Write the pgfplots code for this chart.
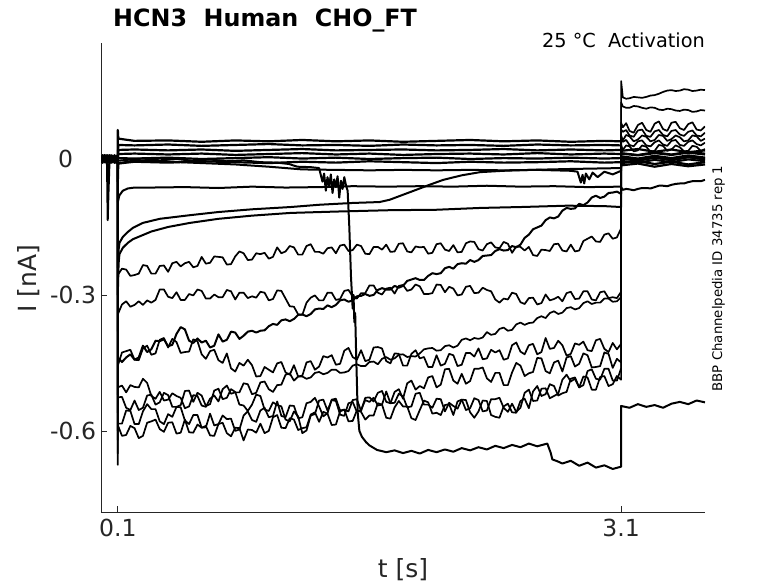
\documentclass[border=0pt]{standalone}
\usepackage{fontspec}
\setmainfont{DejaVu Sans}
\usepackage{pgfplots}
\usepackage{pgfplotstable}
\pgfplotsset{compat=1.18}
\definecolor{axgray}{RGB}{38,38,38}
\pgfplotsset{
  tn/.style={black, line width=1.7bp, line join=round},
  tm/.style={black, line width=2.0bp, line join=round},
  tb/.style={black, line width=2.2bp, line join=round},
}
% columns a..h : eight strongly activated sweeps (pre-pulse, step 0.1-3.1 s, tail)
\pgfplotstableread{
t a b c d e f g h
0.000 0.004 -0.003 0.006 -0.005 0.002 -0.008 0.005 -0.002
0.010 -0.006 0.008 -0.004 0.007 -0.009 0.004 -0.003 0.009
0.020 0.007 -0.005 0.009 -0.008 0.005 -0.002 0.008 -0.006
0.030 -0.003 0.006 -0.007 0.004 -0.006 0.009 -0.005 0.003
0.036 0.005 -0.008 -0.012 -0.006 0.008 -0.004 0.006 -0.009
0.040 -0.004 0.003 -0.135 0.009 -0.003 0.007 -0.008 0.004
0.044 0.008 -0.006 -0.080 -0.003 0.006 -0.009 0.002 -0.007
0.050 -0.007 0.009 -0.012 0.005 -0.008 0.003 -0.006 0.008
0.060 0.003 -0.004 0.007 -0.009 0.004 -0.006 0.009 -0.003
0.070 -0.008 0.007 -0.005 0.006 -0.007 0.008 -0.004 0.005
0.080 0.006 -0.009 0.004 -0.004 0.009 -0.005 0.007 -0.008
0.090 -0.005 0.004 -0.008 0.008 -0.002 0.006 -0.009 0.006
0.100 0.002 -0.006 0.003 -0.007 0.006 -0.003 0.004 -0.004
0.100 -0.300 -0.380 -0.520 -0.560 -0.600 -0.650 -0.620 -0.675
0.100 -0.256 -0.343 -0.438 -0.456 -0.504 -0.584 -0.526 -0.587
0.125 -0.242 -0.321 -0.448 -0.427 -0.500 -0.584 -0.525 -0.611
0.150 -0.244 -0.314 -0.438 -0.424 -0.515 -0.555 -0.549 -0.609
0.175 -0.258 -0.326 -0.431 -0.421 -0.499 -0.556 -0.554 -0.589
0.200 -0.256 -0.322 -0.443 -0.443 -0.503 -0.585 -0.533 -0.594
0.225 -0.253 -0.314 -0.438 -0.444 -0.504 -0.585 -0.554 -0.616
0.250 -0.234 -0.322 -0.412 -0.418 -0.485 -0.557 -0.549 -0.611
0.275 -0.236 -0.312 -0.426 -0.412 -0.494 -0.541 -0.522 -0.582
0.300 -0.253 -0.317 -0.420 -0.432 -0.523 -0.552 -0.520 -0.579
0.325 -0.253 -0.311 -0.401 -0.429 -0.529 -0.552 -0.542 -0.575
0.350 -0.236 -0.288 -0.402 -0.399 -0.514 -0.579 -0.537 -0.596
0.375 -0.235 -0.288 -0.398 -0.395 -0.533 -0.585 -0.516 -0.602
0.400 -0.249 -0.304 -0.413 -0.416 -0.531 -0.563 -0.521 -0.582
0.425 -0.230 -0.307 -0.410 -0.397 -0.517 -0.569 -0.547 -0.581
0.450 -0.227 -0.294 -0.386 -0.404 -0.523 -0.547 -0.547 -0.606
0.475 -0.237 -0.311 -0.371 -0.428 -0.527 -0.548 -0.543 -0.604
0.500 -0.230 -0.311 -0.376 -0.426 -0.550 -0.577 -0.512 -0.575
0.525 -0.227 -0.298 -0.401 -0.425 -0.546 -0.585 -0.511 -0.603
0.550 -0.239 -0.301 -0.406 -0.398 -0.521 -0.565 -0.536 -0.604
0.575 -0.236 -0.288 -0.396 -0.402 -0.523 -0.565 -0.516 -0.586
0.600 -0.216 -0.291 -0.405 -0.431 -0.544 -0.593 -0.522 -0.593
0.625 -0.231 -0.308 -0.401 -0.441 -0.547 -0.592 -0.545 -0.589
0.650 -0.229 -0.308 -0.416 -0.424 -0.529 -0.562 -0.541 -0.610
0.675 -0.215 -0.299 -0.412 -0.421 -0.522 -0.588 -0.511 -0.611
0.700 -0.216 -0.305 -0.387 -0.444 -0.535 -0.585 -0.507 -0.585
0.725 -0.217 -0.305 -0.403 -0.450 -0.508 -0.566 -0.530 -0.582
0.750 -0.233 -0.289 -0.399 -0.429 -0.500 -0.574 -0.527 -0.605
0.775 -0.232 -0.292 -0.381 -0.462 -0.518 -0.573 -0.508 -0.612
0.800 -0.215 -0.310 -0.383 -0.469 -0.515 -0.600 -0.514 -0.593
0.825 -0.204 -0.295 -0.397 -0.450 -0.515 -0.597 -0.542 -0.594
0.850 -0.208 -0.295 -0.390 -0.456 -0.495 -0.566 -0.544 -0.621
0.875 -0.223 -0.307 -0.381 -0.443 -0.497 -0.557 -0.556 -0.597
0.900 -0.222 -0.303 -0.379 -0.455 -0.519 -0.576 -0.542 -0.598
0.925 -0.208 -0.306 -0.383 -0.480 -0.516 -0.580 -0.520 -0.604
0.950 -0.210 -0.293 -0.379 -0.479 -0.493 -0.555 -0.523 -0.584
0.975 -0.207 -0.295 -0.378 -0.459 -0.491 -0.549 -0.553 -0.605
1.000 -0.220 -0.312 -0.369 -0.465 -0.508 -0.570 -0.556 -0.600
1.025 -0.216 -0.309 -0.364 -0.471 -0.514 -0.567 -0.537 -0.570
1.050 -0.195 -0.290 -0.366 -0.451 -0.499 -0.535 -0.543 -0.565
1.075 -0.208 -0.291 -0.356 -0.448 -0.498 -0.567 -0.546 -0.593
1.100 -0.204 -0.308 -0.354 -0.471 -0.476 -0.570 -0.575 -0.594
1.125 -0.192 -0.325 -0.358 -0.476 -0.473 -0.544 -0.579 -0.572
1.150 -0.195 -0.326 -0.353 -0.455 -0.489 -0.545 -0.557 -0.575
1.175 -0.211 -0.343 -0.344 -0.480 -0.480 -0.572 -0.568 -0.598
1.200 -0.211 -0.344 -0.343 -0.478 -0.480 -0.570 -0.605 -0.594
1.225 -0.192 -0.317 -0.347 -0.449 -0.485 -0.539 -0.599 -0.592
1.250 -0.188 -0.306 -0.342 -0.446 -0.482 -0.536 -0.566 -0.564
1.275 -0.205 -0.301 -0.332 -0.465 -0.472 -0.527 -0.563 -0.559
1.300 -0.205 -0.312 -0.330 -0.458 -0.470 -0.546 -0.533 -0.580
1.325 -0.209 -0.312 -0.331 -0.435 -0.475 -0.568 -0.531 -0.558
1.350 -0.197 -0.295 -0.323 -0.438 -0.472 -0.561 -0.555 -0.562
1.375 -0.195 -0.295 -0.327 -0.433 -0.465 -0.531 -0.532 -0.587
1.400 -0.208 -0.311 -0.322 -0.454 -0.465 -0.529 -0.534 -0.586
1.425 -0.191 -0.309 -0.312 -0.452 -0.472 -0.555 -0.564 -0.557
1.450 -0.189 -0.291 -0.310 -0.423 -0.471 -0.553 -0.567 -0.553
1.475 -0.203 -0.289 -0.315 -0.417 -0.468 -0.557 -0.539 -0.579
1.500 -0.201 -0.303 -0.312 -0.437 -0.456 -0.532 -0.536 -0.578
1.525 -0.189 -0.308 -0.303 -0.443 -0.453 -0.530 -0.558 -0.555
1.550 -0.192 -0.296 -0.302 -0.422 -0.457 -0.556 -0.554 -0.558
1.575 -0.209 -0.296 -0.298 -0.446 -0.457 -0.527 -0.532 -0.575
1.600 -0.210 -0.279 -0.302 -0.443 -0.448 -0.526 -0.536 -0.566
1.625 -0.194 -0.279 -0.300 -0.416 -0.447 -0.535 -0.527 -0.566
1.650 -0.194 -0.295 -0.289 -0.415 -0.453 -0.516 -0.544 -0.539
1.675 -0.200 -0.299 -0.285 -0.418 -0.441 -0.512 -0.542 -0.542
1.700 -0.189 -0.286 -0.288 -0.446 -0.437 -0.536 -0.513 -0.571
1.725 -0.205 -0.284 -0.288 -0.451 -0.443 -0.539 -0.539 -0.573
1.750 -0.204 -0.297 -0.280 -0.429 -0.440 -0.514 -0.538 -0.548
1.775 -0.187 -0.280 -0.284 -0.430 -0.432 -0.508 -0.518 -0.534
1.800 -0.186 -0.278 -0.280 -0.456 -0.431 -0.529 -0.524 -0.546
1.825 -0.204 -0.291 -0.269 -0.456 -0.437 -0.495 -0.548 -0.546
1.850 -0.206 -0.288 -0.266 -0.430 -0.435 -0.489 -0.546 -0.572
1.875 -0.193 -0.277 -0.263 -0.422 -0.436 -0.509 -0.518 -0.576
1.900 -0.195 -0.281 -0.267 -0.440 -0.429 -0.501 -0.516 -0.554
1.925 -0.194 -0.298 -0.267 -0.437 -0.420 -0.506 -0.542 -0.533
1.950 -0.209 -0.298 -0.258 -0.459 -0.418 -0.482 -0.542 -0.537
1.975 -0.207 -0.296 -0.252 -0.459 -0.417 -0.479 -0.549 -0.562
2.000 -0.188 -0.277 -0.254 -0.433 -0.423 -0.504 -0.529 -0.560
2.025 -0.186 -0.278 -0.252 -0.456 -0.422 -0.498 -0.530 -0.565
2.050 -0.200 -0.294 -0.241 -0.452 -0.413 -0.464 -0.557 -0.543
2.075 -0.203 -0.282 -0.238 -0.430 -0.411 -0.463 -0.538 -0.541
2.100 -0.190 -0.286 -0.242 -0.433 -0.416 -0.489 -0.545 -0.565
2.125 -0.206 -0.301 -0.232 -0.457 -0.412 -0.496 -0.551 -0.535
2.150 -0.205 -0.299 -0.230 -0.454 -0.399 -0.474 -0.531 -0.531
2.175 -0.186 -0.282 -0.231 -0.428 -0.396 -0.496 -0.532 -0.554
2.200 -0.182 -0.280 -0.223 -0.428 -0.400 -0.490 -0.559 -0.550
2.225 -0.183 -0.296 -0.227 -0.436 -0.395 -0.463 -0.571 -0.528
2.250 -0.199 -0.295 -0.223 -0.418 -0.397 -0.463 -0.557 -0.532
2.275 -0.202 -0.284 -0.214 -0.442 -0.394 -0.460 -0.533 -0.557
2.300 -0.188 -0.289 -0.213 -0.440 -0.382 -0.484 -0.534 -0.555
2.325 -0.184 -0.292 -0.212 -0.421 -0.388 -0.492 -0.565 -0.530
2.350 -0.195 -0.310 -0.203 -0.427 -0.386 -0.472 -0.569 -0.530
2.375 -0.197 -0.317 -0.199 -0.422 -0.375 -0.472 -0.571 -0.527
2.400 -0.183 -0.308 -0.202 -0.443 -0.372 -0.499 -0.546 -0.549
2.425 -0.187 -0.310 -0.201 -0.440 -0.379 -0.499 -0.540 -0.558
2.450 -0.207 -0.295 -0.192 -0.411 -0.377 -0.471 -0.559 -0.540
2.475 -0.193 -0.298 -0.195 -0.405 -0.365 -0.450 -0.560 -0.558
2.500 -0.194 -0.316 -0.189 -0.425 -0.361 -0.456 -0.534 -0.549
2.525 -0.202 -0.320 -0.174 -0.431 -0.366 -0.479 -0.529 -0.516
2.550 -0.194 -0.307 -0.167 -0.411 -0.362 -0.473 -0.550 -0.509
2.575 -0.212 -0.306 -0.155 -0.408 -0.361 -0.470 -0.513 -0.534
2.600 -0.214 -0.321 -0.151 -0.431 -0.351 -0.439 -0.501 -0.533
2.625 -0.200 -0.318 -0.147 -0.426 -0.347 -0.440 -0.523 -0.507
2.650 -0.201 -0.299 -0.135 -0.395 -0.351 -0.468 -0.519 -0.506
2.675 -0.203 -0.312 -0.129 -0.419 -0.340 -0.473 -0.497 -0.528
2.700 -0.188 -0.309 -0.131 -0.417 -0.336 -0.449 -0.501 -0.523
2.725 -0.187 -0.304 -0.127 -0.401 -0.342 -0.445 -0.522 -0.518
2.750 -0.202 -0.314 -0.114 -0.411 -0.339 -0.469 -0.517 -0.487
2.775 -0.204 -0.296 -0.108 -0.434 -0.329 -0.438 -0.514 -0.476
2.800 -0.189 -0.293 -0.110 -0.430 -0.327 -0.435 -0.485 -0.491
2.825 -0.204 -0.309 -0.109 -0.407 -0.332 -0.458 -0.482 -0.485
2.850 -0.202 -0.308 -0.099 -0.410 -0.329 -0.452 -0.504 -0.504
2.875 -0.181 -0.292 -0.102 -0.403 -0.318 -0.429 -0.480 -0.499
2.900 -0.176 -0.292 -0.096 -0.422 -0.314 -0.433 -0.482 -0.468
2.925 -0.171 -0.310 -0.085 -0.424 -0.320 -0.460 -0.509 -0.464
2.950 -0.182 -0.312 -0.081 -0.400 -0.317 -0.459 -0.509 -0.485
2.975 -0.183 -0.294 -0.086 -0.397 -0.317 -0.457 -0.481 -0.487
3.000 -0.167 -0.292 -0.083 -0.419 -0.308 -0.427 -0.479 -0.463
3.025 -0.164 -0.307 -0.075 -0.426 -0.308 -0.430 -0.501 -0.463
3.050 -0.176 -0.305 -0.074 -0.406 -0.315 -0.461 -0.497 -0.489
3.075 -0.173 -0.307 -0.072 -0.420 -0.314 -0.441 -0.479 -0.489
3.100 -0.153 -0.293 -0.077 -0.408 -0.305 -0.449 -0.487 -0.462
3.100 0.030 0.042 -0.062 0.065 0.052 0.080 0.125 0.172
3.110 0.020 0.038 -0.068 0.060 0.041 0.070 0.116 0.136
3.130 0.030 0.042 -0.066 0.064 0.053 0.079 0.113 0.133
3.150 0.028 0.031 -0.067 0.052 0.050 0.062 0.113 0.134
3.175 0.017 0.028 -0.069 0.049 0.039 0.058 0.117 0.137
3.200 0.019 0.039 -0.066 0.063 0.043 0.075 0.116 0.136
3.225 0.030 0.041 -0.064 0.065 0.052 0.080 0.113 0.135
3.250 0.027 0.030 -0.064 0.051 0.049 0.064 0.111 0.137
3.275 0.016 0.028 -0.065 0.049 0.039 0.060 0.114 0.140
3.300 0.018 0.037 -0.062 0.061 0.042 0.078 0.113 0.141
3.325 0.031 0.041 -0.059 0.064 0.053 0.083 0.109 0.144
3.350 0.029 0.032 -0.059 0.053 0.051 0.066 0.108 0.148
3.375 0.018 0.029 -0.060 0.050 0.040 0.062 0.111 0.151
3.400 0.021 0.040 -0.057 0.062 0.044 0.080 0.110 0.152
3.425 0.030 0.042 -0.055 0.064 0.052 0.082 0.107 0.150
3.450 0.026 0.031 -0.054 0.054 0.048 0.068 0.106 0.151
3.475 0.017 0.029 -0.054 0.051 0.039 0.064 0.109 0.154
3.500 0.018 0.038 -0.051 0.060 0.041 0.077 0.108 0.153
3.525 0.029 0.041 -0.049 0.063 0.052 0.081 0.104 0.150
3.550 0.027 0.033 -0.049 0.052 0.050 0.065 0.105 0.151
3.575 0.018 0.030 -0.049 0.050 0.040 0.063 0.108 0.153
3.600 0.022 0.036 -0.046 0.058 0.045 0.072 0.107 0.152
}\sweeps
\begin{document}
\begin{tikzpicture}
\path[use as bounding box] (0,0) rectangle (778bp,583bp);
\begin{axis}[
  at={(101bp,71bp)}, anchor=south west,
  scale only axis, width=604bp, height=469bp,
  xmin=0, xmax=3.6, ymin=-0.779, ymax=0.256,
  axis x line*=bottom, axis y line*=left,
  axis line style={color=axgray, line width=0.6bp},
  xtick={0.1,3.1}, xticklabels={0.1,3.1},
  ytick={-0.6,-0.3,0}, yticklabels={-0.6,-0.3,{0\hspace*{23bp}}},
  tick align=inside, major tick length=6bp,
  tick style={color=axgray, line width=0.6bp},
  tick label style={font=\fontsize{23.5bp}{28bp}\selectfont, text=axgray},
  xticklabel style={yshift=-4bp},
  yticklabel style={xshift=-1.5bp},
]
% eight most activated sweeps
\addplot[tn] table[x=t,y=a]{\sweeps};
\addplot[tn] table[x=t,y=b]{\sweeps};
\addplot[tm] table[x=t,y=c]{\sweeps};
\addplot[tn] table[x=t,y=d]{\sweeps};
\addplot[tn] table[x=t,y=e]{\sweeps};
\addplot[tn] table[x=t,y=f]{\sweeps};
\addplot[tn] table[x=t,y=g]{\sweeps};
\addplot[tn] table[x=t,y=h]{\sweeps};
% weakly activated sweeps near zero
\addplot[tb] coordinates {(0,0.004)(0.03,-0.005)(0.06,0.006)(0.1,0.001)(0.1003,0.064)(0.103,0.045)(0.2,0.040)(0.4,0.041)(0.6,0.038)(0.8,0.041)(1.0,0.039)(1.2,0.042)(1.4,0.039)(1.6,0.041)(1.8,0.038)(2.0,0.040)(2.2,0.042)(2.4,0.039)(2.6,0.041)(2.8,0.038)(3.0,0.040)(3.1,0.039)(3.1,0.012)(3.2,0.008)(3.3,0.013)(3.4,0.009)(3.5,0.014)(3.6,0.010)};
\addplot[tb] coordinates {(0,-0.003)(0.03,0.006)(0.06,-0.004)(0.1,0.002)(0.103,0.031)(0.2,0.030)(0.4,0.032)(0.6,0.029)(0.8,0.031)(1.0,0.033)(1.2,0.030)(1.4,0.031)(1.6,0.029)(1.8,0.032)(2.0,0.030)(2.2,0.031)(2.4,0.029)(2.6,0.032)(2.8,0.030)(3.0,0.031)(3.1,0.030)(3.1,0.002)(3.2,-0.003)(3.3,0.003)(3.4,-0.002)(3.5,0.004)(3.6,-0.001)};
\addplot[tb] coordinates {(0,0.005)(0.03,-0.002)(0.06,0.004)(0.1,-0.002)(0.103,0.020)(0.2,0.021)(0.4,0.019)(0.6,0.021)(0.8,0.018)(1.0,0.020)(1.2,0.022)(1.4,0.019)(1.6,0.020)(1.8,0.021)(2.0,0.019)(2.2,0.020)(2.4,0.022)(2.6,0.019)(2.8,0.021)(3.0,0.019)(3.1,0.020)(3.1,-0.009)(3.2,-0.005)(3.3,-0.011)(3.4,-0.006)(3.5,-0.012)(3.6,-0.007)};
\addplot[tb] coordinates {(0,-0.005)(0.03,0.004)(0.06,-0.006)(0.1,0.003)(0.103,0.011)(0.2,0.012)(0.4,0.010)(0.6,0.012)(0.8,0.009)(1.0,0.011)(1.2,0.013)(1.4,0.010)(1.6,0.012)(1.8,0.009)(2.0,0.011)(2.2,0.012)(2.4,0.010)(2.6,0.013)(2.8,0.010)(3.0,0.012)(3.1,0.011)(3.1,0.018)(3.2,0.022)(3.3,0.016)(3.4,0.021)(3.5,0.015)(3.6,0.019)};
\addplot[tb] coordinates {(0,0.006)(0.03,-0.003)(0.06,0.005)(0.1,-0.004)(0.103,0.002)(0.2,0.001)(0.4,0.003)(0.6,0.000)(0.8,0.002)(1.0,0.004)(1.2,0.001)(1.4,0.003)(1.6,0.000)(1.8,0.002)(2.0,0.003)(2.2,0.000)(2.4,0.002)(2.6,0.001)(2.8,0.003)(3.0,0.001)(3.1,0.002)(3.1,0.006)(3.2,0.001)(3.3,0.007)(3.4,0.002)(3.5,0.008)(3.6,0.003)};
\addplot[tb] coordinates {(0,-0.002)(0.03,0.005)(0.06,-0.005)(0.1,0.004)(0.1003,-0.050)(0.103,-0.010)(0.2,-0.006)(0.4,-0.008)(0.6,-0.005)(0.8,-0.007)(1.0,-0.009)(1.2,-0.006)(1.4,-0.008)(1.6,-0.005)(1.8,-0.007)(2.0,-0.009)(2.2,-0.006)(2.4,-0.008)(2.6,-0.007)(2.8,-0.005)(3.0,-0.008)(3.1,-0.007)(3.1,-0.014)(3.2,-0.010)(3.3,-0.017)(3.4,-0.011)(3.5,-0.016)(3.6,-0.012)};
% slowly drifting sweep with small dip near 2.9 s
\addplot[tm] coordinates {(0,-0.004)(0.05,0.005)(0.1,0.001)(0.1,-0.010)(0.2,-0.003)(0.4,-0.006)(0.6,-0.009)(0.8,-0.012)(1.0,-0.017)(1.2,-0.023)(1.4,-0.024)(1.6,-0.025)(1.8,-0.024)(2.0,-0.025)(2.2,-0.024)(2.4,-0.025)(2.6,-0.024)(2.8,-0.026)(2.84,-0.028)(2.86,-0.052)(2.87,-0.035)(2.88,-0.054)(2.89,-0.032)(2.91,-0.045)(2.93,-0.030)(2.96,-0.040)(3.0,-0.028)(3.05,-0.034)(3.1,-0.026)(3.1,-0.004)(3.2,-0.008)(3.3,-0.002)(3.4,-0.007)(3.5,-0.001)(3.6,-0.005)};
% fast-settling sweep near -0.06
\addplot[tm] coordinates {(0,0.002)(0.05,-0.005)(0.1,0.003)(0.1,-0.095)(0.11,-0.080)(0.13,-0.070)(0.16,-0.065)(0.2,-0.063)(0.3,-0.063)(0.5,-0.062)(0.7,-0.064)(0.9,-0.061)(1.1,-0.063)(1.3,-0.062)(1.5,-0.060)(1.7,-0.061)(1.9,-0.060)(2.1,-0.061)(2.3,-0.059)(2.5,-0.061)(2.7,-0.060)(2.9,-0.062)(3.1,-0.061)(3.1,0.004)(3.2,0.000)(3.3,0.006)(3.4,0.001)(3.5,0.005)(3.6,0.002)};
% two slowly relaxing sweeps
\addplot[tm] coordinates {(0,-0.002)(0.05,0.005)(0.1,0.000)(0.1,-0.240)(0.105,-0.200)(0.11,-0.185)(0.13,-0.172)(0.16,-0.161)(0.19,-0.152)(0.25,-0.141)(0.35,-0.132)(0.53,-0.124)(0.7,-0.117)(0.9,-0.111)(1.13,-0.106)(1.3,-0.101)(1.5,-0.097)(1.66,-0.095)(1.72,-0.090)(1.85,-0.072)(1.95,-0.058)(2.04,-0.046)(2.15,-0.036)(2.26,-0.029)(2.4,-0.026)(2.56,-0.024)(2.8,-0.022)(3.1,-0.020)(3.1,0.013)(3.2,0.009)(3.3,0.015)(3.4,0.010)(3.5,0.016)(3.6,0.012)};
\addplot[tm] coordinates {(0,0.003)(0.05,-0.004)(0.1,0.002)(0.1,-0.300)(0.105,-0.230)(0.11,-0.210)(0.13,-0.196)(0.16,-0.185)(0.19,-0.177)(0.3,-0.160)(0.4,-0.150)(0.53,-0.141)(0.7,-0.132)(0.9,-0.125)(1.13,-0.119)(1.4,-0.116)(1.72,-0.113)(2.0,-0.112)(2.26,-0.108)(2.5,-0.106)(2.78,-0.103)(3.0,-0.104)(3.1,-0.106)(3.1,0.001)(3.2,-0.004)(3.3,0.003)(3.4,-0.003)(3.5,0.004)(3.6,-0.001)};
% sweep with seal break near 1.5 s
\addplot[tm] coordinates {(0,0.002)(0.02,-0.004)(0.04,0.003)(0.06,-0.003)(0.08,0.004)(0.1,0.000)(0.103,-0.004)(0.15,-0.002)(0.25,0.001)(0.35,-0.003)(0.45,0.000)(0.55,-0.004)(0.65,-0.001)(0.75,-0.005)(0.85,-0.003)(0.95,-0.007)(1.05,-0.008)(1.12,-0.011)(1.17,-0.017)(1.25,-0.018)(1.30,-0.020)(1.31,-0.035)(1.32,-0.050)(1.33,-0.032)(1.34,-0.070)(1.35,-0.040)(1.36,-0.060)(1.37,-0.034)(1.38,-0.075)(1.39,-0.045)(1.40,-0.062)(1.41,-0.038)(1.42,-0.085)(1.43,-0.048)(1.44,-0.066)(1.45,-0.040)(1.46,-0.058)(1.47,-0.070)(1.48,-0.150)(1.49,-0.260)(1.50,-0.330)(1.505,-0.300)(1.51,-0.360)(1.515,-0.340)(1.52,-0.420)(1.53,-0.560)(1.54,-0.600)(1.555,-0.613)(1.58,-0.625)(1.60,-0.632)(1.645,-0.642)(1.70,-0.647)(1.75,-0.643)(1.80,-0.649)(1.85,-0.644)(1.90,-0.650)(1.95,-0.642)(2.00,-0.647)(2.05,-0.641)(2.10,-0.646)(2.15,-0.638)(2.20,-0.643)(2.25,-0.636)(2.30,-0.641)(2.35,-0.633)(2.40,-0.638)(2.45,-0.631)(2.50,-0.636)(2.55,-0.628)(2.60,-0.634)(2.66,-0.628)(2.68,-0.648)(2.69,-0.663)(2.72,-0.667)(2.75,-0.672)(2.80,-0.666)(2.85,-0.677)(2.90,-0.670)(2.95,-0.681)(3.00,-0.676)(3.05,-0.684)(3.10,-0.679)(3.10,-0.545)(3.15,-0.549)(3.2,-0.541)(3.25,-0.547)(3.3,-0.543)(3.35,-0.549)(3.4,-0.540)(3.45,-0.536)(3.5,-0.541)(3.55,-0.533)(3.6,-0.537)};
\end{axis}
\node[anchor=base west, inner sep=0, font=\fontsize{23.8bp}{28bp}\selectfont\bfseries] at (113bp,556.3bp) {HCN3\ \ Human\ \ CHO\_FT};
\node[anchor=base east, inner sep=0, font=\fontsize{19.3bp}{23bp}\selectfont] at (705bp,535bp) {25 °C\ \ Activation};
\node[rotate=90, anchor=base, inner sep=0, font=\fontsize{13.3bp}{16bp}\selectfont] at (722bp,304.5bp) {BBP Channelpedia ID 34735 rep 1};
\node[anchor=base, inner sep=0, font=\fontsize{25bp}{30bp}\selectfont, text=axgray] at (403bp,6bp) {t [s]};
\node[rotate=90, anchor=base, inner sep=0, font=\fontsize{25bp}{30bp}\selectfont, text=axgray] at (36bp,304.5bp) {I [nA]};
\end{tikzpicture}
\end{document}
